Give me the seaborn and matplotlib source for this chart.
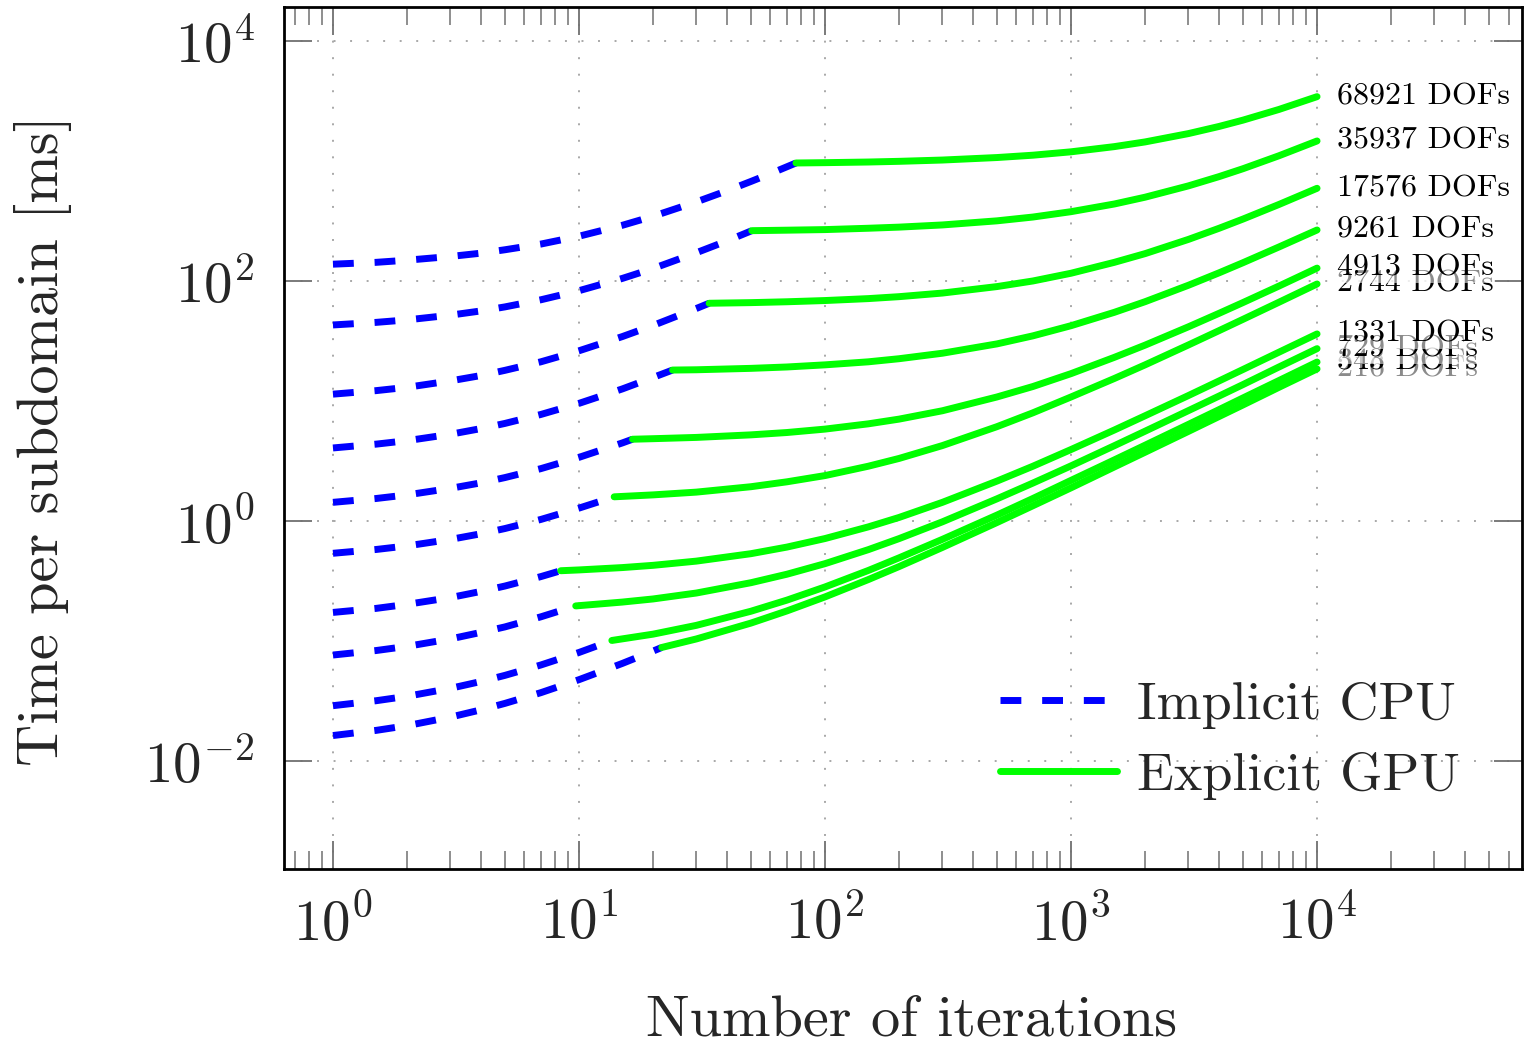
import numpy as np
import pandas as pd
import matplotlib
matplotlib.use("Agg")
import matplotlib.pyplot as plt
from matplotlib.lines import Line2D
from matplotlib.ticker import LogLocator, NullLocator, FixedLocator, NullFormatter
import seaborn as sns

# ---------------- data ----------------
dofs = [68921, 35937, 17576, 9261, 4913, 2744, 1331, 729, 343, 216]

# point where the implicit CPU curve hands over to the explicit GPU curve
switch_iters = [76.2, 50.4, 33.8, 24.0, 16.5, 13.9, 8.43, 9.70, 13.6, 21.7]
switch_time = [962, 262.5, 65.2, 18.1, 4.80, 1.59, 0.385, 0.196, 0.101, 0.0883]

# Implicit CPU times [ms] (None = past the switch point)
cpu_iters = [1, 1.5, 2, 3, 4, 5, 7, 10, 15, 20, 30, 40, 50, 60]
cpu_68921 = [138, 143, 149, 160, 170.5, 182, 203, 236, 291, 346, 456, 565, 675, 784]
cpu_35937 = [43.0, 45.2, 47.4, 51.9, 56.3, 60.8, 69.7, 83.0, 105, 127, 172, 216, None, None]
cpu_17576 = [11.4, 12.2, 13.0, 14.7, 16.3, 18.0, 21.2, 26.2, 34.4, 42.6, 59.0, None, None, None]
cpu_9261 = [4.06, 4.37, 4.67, 5.28, 5.89, 6.50, 7.72, 9.55, 12.6, 15.7, None, None, None, None]
cpu_4913 = [1.43, 1.54, 1.65, 1.87, 2.08, 2.30, 2.73, 3.39, 4.47, None, None, None, None, None]
cpu_2744 = [0.538, 0.579, 0.620, 0.702, 0.783, 0.865, 1.03, 1.28, None, None, None, None, None, None]
cpu_1331 = [0.173, 0.187, 0.202, 0.230, 0.259, 0.287, 0.344, None, None, None, None, None, None, None]
cpu_729 = [0.0764, 0.0833, 0.0902, 0.104, 0.118, 0.131, 0.159, None, None, None, None, None, None, None]
cpu_343 = [0.0289, 0.0318, 0.0346, 0.0403, 0.0460, 0.0517, 0.0631, 0.0802, None, None, None, None, None, None]
cpu_216 = [0.0163, 0.0180, 0.0197, 0.0232, 0.0267, 0.0302, 0.0371, 0.0476, 0.0650, 0.0824, None, None, None, None]

# Explicit GPU times [ms] (None = before the switch point)
gpu_iters = [10, 15, 20, 30, 50, 70, 100, 150, 200, 300, 500, 700, 1000,
             1500, 2000, 3000, 4000, 5000, 7000, 10000]
gpu_68921 = [None, None, None, None, None, None, 968, 980, 993, 1018, 1068, 1117, 1192,
             1317, 1441, 1691, 1940, 2189, 2687, 3435]
gpu_35937 = [None, None, None, None, None, 265, 268, 275, 281, 293, 317, 341, 378,
             438, 499, 620, 741, 862, 1105, 1468]
gpu_17576 = [None, None, None, None, 66.0, 67.1, 68.7, 71.3, 74.0, 79.3, 89.8, 100, 116,
             143, 169, 222, 275, 328, 434, 592]
gpu_9261 = [None, None, None, 18.2, 18.7, 19.2, 20.0, 21.2, 22.5, 25.0, 29.9, 34.9, 42.4,
            54.8, 67.2, 92.1, 117, 142, 192, 266]
gpu_4913 = [None, None, 4.85, 4.97, 5.22, 5.46, 5.83, 6.45, 7.06, 8.29, 10.8, 13.2, 16.9,
            23.1, 29.2, 41.5, 53.8, 66.1, 90.7, 128]
gpu_2744 = [None, None, 1.65, 1.74, 1.93, 2.12, 2.39, 2.86, 3.32, 4.25, 6.11, 7.97, 10.8,
            15.4, 20.0, 29.3, 38.6, 47.9, 66.5, 94.4]
gpu_1331 = [0.391, 0.409, 0.427, 0.463, 0.534, 0.606, 0.714, 0.893, 1.07, 1.43, 2.15, 2.86, 3.94,
            5.73, 7.53, 11.1, 14.7, 18.3, 25.5, 36.2]
gpu_729 = [None, 0.211, 0.224, 0.251, 0.306, 0.360, 0.441, 0.577, 0.713, 0.984, 1.53, 2.07, 2.88,
           4.24, 5.60, 8.31, 11.0, 13.7, 19.2, 27.3]
gpu_343 = [None, None, 0.114, 0.135, 0.177, 0.219, 0.282, 0.387, 0.493, 0.703, 1.12, 1.54, 2.18,
           3.23, 4.28, 6.38, 8.48, 10.6, 14.8, 21.1]
gpu_216 = [None, None, None, 0.104, 0.141, 0.178, 0.233, 0.325, 0.417, 0.602, 0.971, 1.34, 1.89,
           2.82, 3.74, 5.58, 7.43, 9.27, 13.0, 18.5]

cpu_series = [cpu_68921, cpu_35937, cpu_17576, cpu_9261, cpu_4913,
              cpu_2744, cpu_1331, cpu_729, cpu_343, cpu_216]
gpu_series = [gpu_68921, gpu_35937, gpu_17576, gpu_9261, gpu_4913,
              gpu_2744, gpu_1331, gpu_729, gpu_343, gpu_216]

legend_labels = ["Implicit CPU", "Explicit GPU"]
x_label = "Number of iterations"
y_label = "Time per subdomain [ms]"

# ---------------- style ----------------
sns.set_style("ticks")
plt.rcParams.update({
    "font.family": ["cmr10", "DejaVu Serif"],
    "mathtext.fontset": "cm",
    "axes.formatter.use_mathtext": True,
    "axes.unicode_minus": True,
    "axes.linewidth": 2.0,
    "axes.edgecolor": "black",
})

CPU_COLOR = "#0000ff"
GPU_COLOR = "#00ff00"
LW = 5.0
DASH = (0, (3, 3))

fig = plt.figure(figsize=(15.24, 10.4), dpi=100)
ax = fig.add_axes([284 / 1524, 1 - 869 / 1040, (1522 - 284) / 1524, (869 - 7) / 1040])

for i, d in enumerate(dofs):
    cx = [n for n, t in zip(cpu_iters, cpu_series[i]) if t is not None] + [switch_iters[i]]
    cy = [t for t in cpu_series[i] if t is not None] + [switch_time[i]]
    gx = [switch_iters[i]] + [n for n, t in zip(gpu_iters, gpu_series[i]) if t is not None]
    gy = [switch_time[i]] + [t for t in gpu_series[i] if t is not None]
    df_c = pd.DataFrame({"iters": cx, "time": cy})
    df_g = pd.DataFrame({"iters": gx, "time": gy})
    sns.lineplot(data=df_c, x="iters", y="time", ax=ax, color=CPU_COLOR,
                 linewidth=LW, linestyle=DASH, estimator=None, sort=False,
                 legend=False, zorder=3)
    sns.lineplot(data=df_g, x="iters", y="time", ax=ax, color=GPU_COLOR,
                 linewidth=LW, estimator=None, sort=False, legend=False, zorder=3)

# end labels, drawn from small to large so larger ones sit on top
for k, i in enumerate(reversed(range(len(dofs)))):
    ax.annotate(f"{dofs[i]} DOFs", xy=(gpu_iters[-1], gpu_series[i][-1]),
                xytext=(14, 0), textcoords="offset points", va="center", ha="left",
                fontsize=23, color="black", zorder=10 + k,
                bbox=dict(boxstyle="square,pad=0.05", facecolor="white",
                          edgecolor="none", alpha=0.55))

ax.set_xscale("log")
ax.set_yscale("log")
ax.set_xlim(10 ** -0.199, 10 ** 4.833)
ax.set_ylim(10 ** -2.9, 10 ** 4.283)

ax.xaxis.set_major_locator(LogLocator(base=10, numticks=20))
ax.xaxis.set_minor_locator(LogLocator(base=10, subs=np.arange(2, 10), numticks=50))
ax.xaxis.set_minor_formatter(NullFormatter())
ax.yaxis.set_major_locator(FixedLocator([1e-2, 1e0, 1e2, 1e4]))
ax.yaxis.set_minor_locator(NullLocator())

ax.grid(True, which="major", color="#a8a8a8", linestyle=(0, (1, 7.5)), linewidth=1.4)
ax.set_axisbelow(True)

ax.tick_params(which="both", direction="in", top=True, right=True, color="#707070")
ax.tick_params(which="major", length=20, width=1.3, labelsize=41)
ax.tick_params(which="minor", length=13, width=1.1)
ax.tick_params(axis="x", which="major", pad=19)
ax.tick_params(axis="y", which="major", pad=21)

ax.set_xlabel(x_label, fontsize=42)
ax.set_ylabel(y_label, fontsize=42)
ax.xaxis.set_label_coords((912 - 284) / 1238, (869 - 995) / 862)
ax.yaxis.set_label_coords((72 - 284) / 1238, (869 - 441) / 862)

handles = [Line2D([], [], color=CPU_COLOR, lw=LW, linestyle=DASH),
           Line2D([], [], color=GPU_COLOR, lw=LW)]
ax.legend(handles, legend_labels, loc="lower right", bbox_to_anchor=(0.95, 0.08),
          frameon=False, fontsize=39, handlelength=2.16, handletextpad=0.37,
          labelspacing=0.42, borderpad=0, borderaxespad=0)

for s in ax.spines.values():
    s.set_zorder(20)

fig.savefig("out.png", dpi=100)
